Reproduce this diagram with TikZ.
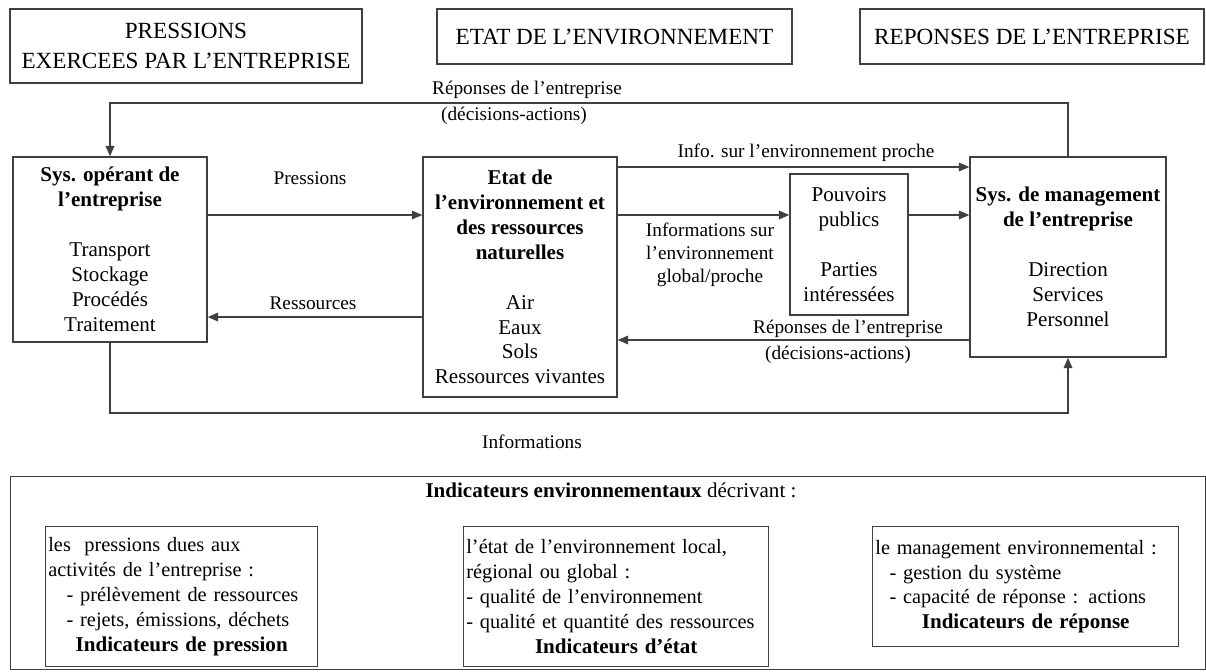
\documentclass[tikz,border=0pt]{standalone}
\usepackage{fontspec}
\setmainfont{Liberation Serif}
\usetikzlibrary{arrows.meta, positioning, calc}
\newcommand{\pxu}{0.57pt}

\begin{document}
\begin{tikzpicture}[x=\pxu, y=-\pxu,
    box/.style={draw=linecol, line width=0.8pt, align=center, inner sep=2pt,
      font=\fontsize{12}{14.2}\selectfont},
    headbox/.style={draw=linecol, line width=0.8pt, align=center, inner sep=2pt,
      font=\fontsize{13.2}{17}\selectfont},
    indbox/.style={draw=linecol, line width=0.8pt, align=left, anchor=north west,
      inner xsep=1.5pt, inner ysep=2pt, font=\fontsize{11.6}{14.2}\selectfont},
    flow/.style={draw=linecol, line width=0.8pt, -{Triangle[length=6pt,width=5pt]}},
    lbl/.style={align=center, font=\fontsize{11}{13}\selectfont}]

    % Define colors
    \definecolor{linecol}{RGB}{64, 64, 64}

    \useasboundingbox (0,0) rectangle (1206,671);

    % Column headings
    \node[headbox, minimum width=352*\pxu, minimum height=74*\pxu] (pressHead) at (186,46)
        {PRESSIONS\\EXERCEES PAR L’ENTREPRISE};
    \node[headbox, minimum width=355*\pxu, minimum height=55*\pxu] (etatHead) at (614.5,36.5)
        {ETAT DE L’ENVIRONNEMENT};
    \node[headbox, minimum width=344*\pxu, minimum height=55*\pxu] (repHead) at (1032,36.5)
        {REPONSES DE L’ENTREPRISE};

    % Main boxes
    \node[box, minimum width=194*\pxu, minimum height=185*\pxu] (opSys) at (110,249.5)
        {\textbf{Sys. opérant de}\\\textbf{l’entreprise}\\[14.2pt]Transport\\Stockage\\Procédés\\Traitement};
    \node[box, minimum width=194*\pxu, minimum height=240*\pxu] (etatSys) at (520,277)
        {\textbf{Etat de}\\\textbf{l’environnement et}\\\textbf{des ressources}\\\textbf{naturelles}\\[14.2pt]Air\\Eaux\\Sols\\Ressources vivantes};
    \node[box, minimum width=118*\pxu, minimum height=141*\pxu] (pouvoirs) at (849,244.5)
        {Pouvoirs\\publics\\[14.2pt]Parties\\intéressées};
    \node[box, minimum width=196*\pxu, minimum height=200*\pxu] (mgmtSys) at (1068,257)
        {\textbf{Sys. de management}\\\textbf{de l’entreprise}\\[14.2pt]Direction\\Services\\Personnel};

    % Rows of the connectors
    \coordinate (rowTop) at (0,103);
    \coordinate (rowA) at (0,167);
    \coordinate (rowB) at (0,215);
    \coordinate (rowC) at (0,317);
    \coordinate (rowD) at (0,340);
    \coordinate (rowBot) at (0,413);

    % Connectors
    \draw[flow] (mgmtSys.north) -- (mgmtSys.north |- rowTop) -| (opSys.north);
    \draw[flow] (opSys.east |- rowB) -- (etatSys.west |- rowB);
    \draw[flow] (etatSys.west |- rowC) -- (opSys.east |- rowC);
    \draw[flow] (etatSys.east |- rowA) -- (mgmtSys.west |- rowA);
    \draw[flow] (etatSys.east |- rowB) -- (pouvoirs.west |- rowB);
    \draw[flow] (pouvoirs.east |- rowB) -- (mgmtSys.west |- rowB);
    \draw[flow] (mgmtSys.west |- rowD) -- (etatSys.east |- rowD);
    \draw[flow] (opSys.south) -- (opSys.south |- rowBot) -| (mgmtSys.south);

    % Connector labels
    \node[lbl] (repTopLbl) at (527,90) {Réponses de l’entreprise};
    \node[lbl] (decTopLbl) at (514,116) {(décisions-actions)};
    \node[lbl] (pressLbl) at (310,178) {Pressions};
    \node[lbl] (resLbl) at (313,303) {Ressources};
    \node[lbl] (infoProcheLbl) at (806,153) {Info. sur l’environnement proche};
    \node[lbl] (infoGlobLbl) at (710,255) {Informations sur\\l’environnement\\global/proche};
    \node[lbl] (repLowLbl) at (848,329) {Réponses de l’entreprise};
    \node[lbl] (decLowLbl) at (838,355) {(décisions-actions)};
    \node[lbl] (infoLbl) at (532,442) {Informations};

    % Indicators
    \node[draw=linecol, line width=0.8pt, minimum width=1195*\pxu, minimum height=193*\pxu,
        anchor=north west] (indFrame) at (10,476) {};
    \node[font=\fontsize{12}{14.2}\selectfont] (indTitle) at (611,490)
        {\textbf{Indicateurs environnementaux} décrivant :};

    \node[indbox, minimum width=272*\pxu, minimum height=140*\pxu, text width=272*\pxu-3pt] (indPress) at (45,526)
        {les\ \ pressions dues aux\\activités de l’entreprise :\\\hspace*{0.9em}- prélèvement de ressources\\\hspace*{0.9em}- rejets, émissions, déchets\par
         {\centering\fontsize{12}{14.2}\selectfont\textbf{Indicateurs de pression}\par}};
    \node[indbox, minimum width=305*\pxu, minimum height=140*\pxu, text width=305*\pxu-3pt] (indEtat) at (463,526)
        {l’état de l’environnement local,\\régional ou global :\\- qualité de l’environnement\\- qualité et quantité des ressources\par
         {\centering\fontsize{12}{14.2}\selectfont\textbf{Indicateurs d’état}\par}};
    \node[indbox, minimum width=306*\pxu, minimum height=120*\pxu, text width=306*\pxu-3pt] (indRep) at (872,526)
        {le management environnemental :\\\hspace*{0.7em}- gestion du système\\\hspace*{0.7em}- capacité de réponse : actions\par
         {\centering\fontsize{12}{14.2}\selectfont\textbf{Indicateurs de réponse}\par}};

\end{tikzpicture}
\end{document}
